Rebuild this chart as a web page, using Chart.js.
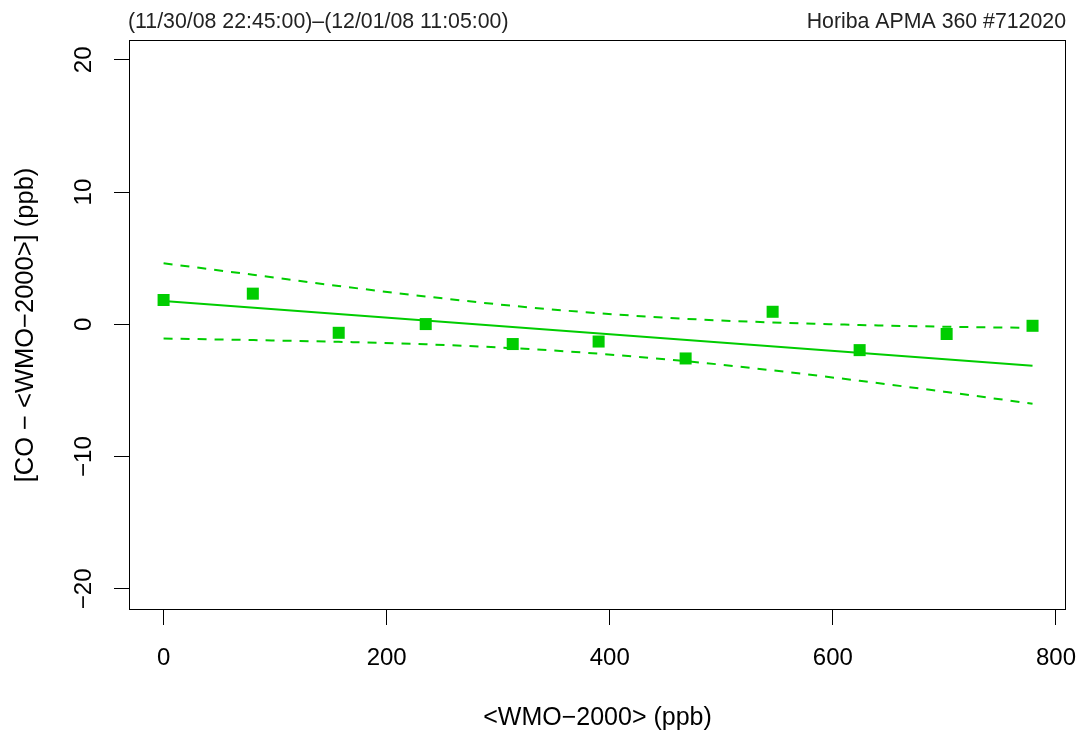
<!DOCTYPE html>
<html>
<head>
<meta charset="utf-8">
<script src="https://cdn.jsdelivr.net/npm/chart.js@4/dist/chart.umd.min.js"></script>
<style>
  body { margin: 0; background: #fff; }
  canvas { display: block; }
</style>
</head>
<body>
<canvas id="canvas" width="1079" height="733"></canvas>
<script>
// reference standard level vs. instrument deviation
const wmo = [0, 80, 157, 235, 313, 390, 468, 546, 624, 702, 779]
const deviation = [1.84, 2.32, -0.64, 0.02, -1.49, -1.30, -2.58, 0.95, -1.95, -0.73, -0.11]

// regression line and its confidence band
const fitX = [0, 779]
const fitY = [1.77, -3.14]
const upperBand = [4.62, 3.75, 2.90, 2.11, 1.40, 0.84, 0.42, 0.14, -0.05, -0.18, -0.27]
const lowerBand = [-1.07, -1.19, -1.32, -1.51, -1.80, -2.22, -2.78, -3.48, -4.27, -5.12, -6.00]

const xTicks = [0, 200, 400, 600, 800]
const yTicks = [-20, -10, 0, 10, 20]

const periodText = '(11/30/08 22:45:00)\u2013(12/01/08 11:05:00)'
const instrumentText = 'Horiba APMA 360 #712020'
const xTitle = '<WMO\u22122000> (ppb)'
const yTitle = '[CO \u2212 <WMO\u22122000>] (ppb)'

const green = '#00cd00'
const font = '"Liberation Sans", Arial, Helvetica, sans-serif'

const pts = (xs, ys) => xs.map((x, i) => ({x: x, y: ys[i]}))

// R-like frame, rotated y labels and margin texts
const decorations = {
    id: 'decorations',
    afterDraw(chart) {
        const ctx = chart.ctx
        const a = chart.chartArea
        const xs = chart.scales.x
        const ys = chart.scales.y
        ctx.save()
        ctx.strokeStyle = '#000'
        ctx.lineWidth = 1
        ctx.strokeRect(a.left + 0.5, a.top + 0.5, a.right - a.left - 1, a.bottom - a.top - 1)

        ctx.fillStyle = '#000'
        ctx.font = `24px ${font}`
        ctx.textAlign = 'center'
        ctx.textBaseline = 'middle'
        xTicks.forEach(v => ctx.fillText(String(v), xs.getPixelForValue(v), 658))
        yTicks.forEach(v => {
            ctx.save()
            ctx.translate(84, ys.getPixelForValue(v))
            ctx.rotate(-Math.PI / 2)
            ctx.fillText(String(v).replace('-', '\u2212'), 0, 0)
            ctx.restore()
        })

        ctx.font = `25px ${font}`
        ctx.fillText(xTitle, (a.left + a.right) / 2, 718)
        ctx.save()
        ctx.translate(26, (a.top + a.bottom) / 2)
        ctx.rotate(-Math.PI / 2)
        ctx.font = `25.5px ${font}`
        ctx.fillText(yTitle, 0, 0)
        ctx.restore()

        ctx.font = `21.3px ${font}`
        ctx.fillStyle = '#222'
        ctx.textBaseline = 'alphabetic'
        ctx.textAlign = 'left'
        ctx.fillText(periodText, a.left - 1, 28)
        ctx.textAlign = 'right'
        ctx.fillText(instrumentText, a.right, 28)
        ctx.restore()
    }
}

const axisCommon = {
    grid: { display: true, drawOnChartArea: false, drawTicks: true, tickLength: 15, color: '#000', tickColor: '#000', lineWidth: 1 },
    border: { display: false },
    ticks: { display: false }
}

new Chart(document.getElementById('canvas').getContext('2d'), {
    type: 'scatter',
    data: {
        datasets: [
            {
                data: pts(fitX, fitY),
                showLine: true,
                borderColor: green,
                borderWidth: 2,
                pointRadius: 0
            },
            {
                data: pts(wmo, upperBand),
                showLine: true,
                borderColor: green,
                borderWidth: 2,
                borderDash: [9, 8],
                cubicInterpolationMode: 'monotone',
                pointRadius: 0
            },
            {
                data: pts(wmo, lowerBand),
                showLine: true,
                borderColor: green,
                borderWidth: 2,
                borderDash: [9, 8],
                cubicInterpolationMode: 'monotone',
                pointRadius: 0
            },
            {
                data: pts(wmo, deviation),
                pointStyle: 'rect',
                pointRadius: 8.5,
                pointHoverRadius: 8.5,
                pointBackgroundColor: green,
                pointBorderWidth: 0,
                borderWidth: 0
            }
        ]
    },
    options: {
        responsive: false,
        animation: false,
        events: [],
        layout: { padding: { top: 40, right: 13, left: 0, bottom: 0 } },
        plugins: { legend: { display: false }, tooltip: { enabled: false } },
        scales: {
            x: {
                ...axisCommon,
                min: -31,
                max: 809,
                afterBuildTicks: s => { s.ticks = xTicks.map(v => ({value: v})) },
                afterFit: s => { s.height = 123 }
            },
            y: {
                ...axisCommon,
                min: -21.6,
                max: 21.5,
                afterBuildTicks: s => { s.ticks = yTicks.map(v => ({value: v})) },
                afterFit: s => { s.width = 129 }
            }
        }
    },
    plugins: [decorations]
})
</script>
</body>
</html>
